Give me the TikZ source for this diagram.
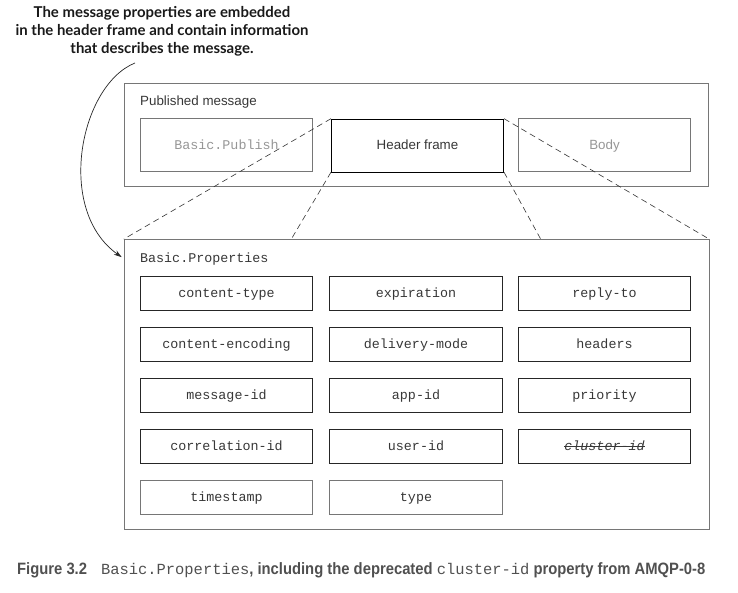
\documentclass[tikz,border=0pt]{standalone}
\usepackage{fontspec}
\setmainfont{Liberation Sans}
\setmonofont{Liberation Mono}
\newfontfamily\notefont{Lato}
\newfontfamily\capfont[FakeStretch=0.9]{Liberation Sans}
\usepackage{tikz}
\usetikzlibrary{positioning,arrows.meta,calc}
\definecolor{frameline}{RGB}{118,118,118}
\definecolor{fadetext}{RGB}{150,150,150}
\definecolor{proptext}{RGB}{55,55,55}
\definecolor{capgrey}{RGB}{80,80,80}
\tikzset{
  outerbox/.style ={draw=frameline, line width=0.8pt, minimum width=586, minimum height=104, inner sep=0pt},
  fadebox/.style  ={draw=frameline, line width=0.8pt, minimum width=173, minimum height=53,
                    text=fadetext, font=\fontsize{13.4}{15}\selectfont, inner sep=0pt,
                    text height=9.6bp, text depth=0.8bp},
  headbox/.style  ={draw=black, line width=0.8pt, minimum width=173, minimum height=53,
                    text=proptext, font=\fontsize{13.4}{15}\selectfont, inner sep=0pt,
                    text height=9.6bp, text depth=0.8bp},
  propbox/.style  ={draw=black!85, line width=0.8pt, minimum width=173, minimum height=34,
                    text=proptext, font=\ttfamily\fontsize{13.4}{15}\selectfont, inner sep=0pt,
                    text height=9.6bp, text depth=0.8bp},
  zoomline/.style ={draw=black!80, dashed, dash pattern=on 6pt off 4pt, line width=0.6pt},
  notearrow/.style={-{Stealth[length=8pt,width=5pt]}, draw=black!85, line width=0.7pt},
}
\begin{document}
\begin{tikzpicture}[x=1bp,y=-1bp]
\useasboundingbox (0,0) rectangle (738,593);
% published message
\node[outerbox] (pubmsg) at (416,135) {};
\node[anchor=base west, font=\fontsize{13.4}{15}\selectfont, text=proptext, inner sep=0pt]
   (publabel) at (140,106) {Published message};
\node[fadebox, font=\ttfamily\fontsize{13.4}{15}\selectfont] (publish) at (226.5,145) {Basic.Publish};
\node[headbox] (header) at (417.5,145.5) {Header frame};
\node[fadebox] (body) at (604.5,145) {Body};

% properties frame
\node[outerbox, minimum height=291, minimum width=587] (props) at (416.5,384.5) {};
\node[anchor=base west, font=\ttfamily\fontsize{13.4}{15}\selectfont, text=proptext, inner sep=0pt]
   (proplabel) at (140,262) {Basic.Properties};

% property boxes
\node[propbox] (ctype)  at (226.5,293) {content-type};
\node[propbox] (expire) at (416,293)   {expiration};
\node[propbox] (reply)  at (604.5,293) {reply-to};
\node[propbox] (cenc)   at (226.5,344) {content-encoding};
\node[propbox] (dmode)  at (416,344)   {delivery-mode};
\node[propbox] (hdrs)   at (604.5,344) {headers};
\node[propbox] (msgid)  at (226.5,395) {message-id};
\node[propbox] (appid)  at (416,395)   {app-id};
\node[propbox] (prio)   at (604.5,395) {priority};
\node[propbox] (corrid) at (226.5,446) {correlation-id};
\node[propbox] (userid) at (416,446)   {user-id};
\node[propbox] (clust)  at (604.5,446) {};
\node[propbox, draw=frameline] (tstamp) at (226.5,497.5) {timestamp};
\node[propbox, draw=frameline] (ptype)  at (416,497.5)   {type};
\node[propbox, draw=none, font=\ttfamily\itshape\fontsize{13.4}{15}\selectfont, minimum width=0pt, minimum height=0pt]
   (clustlbl) at (clust.center) {cluster-id};
\draw[proptext, line width=0.7pt] ([yshift=3.6pt]clustlbl.base west) -- ([yshift=3.6pt]clustlbl.base east);

% zoom lines
\draw[zoomline] (header.north west) -- (props.north west);
\draw[zoomline] (header.south west) -- ($(props.north west)!0.2862!(props.north east)$);
\draw[zoomline] (header.south east) -- ($(props.north west)!0.7121!(props.north east)$);
\draw[zoomline] (header.north east) -- (props.north east);

% note
\node[font=\notefont\bfseries\fontsize{15}{18}\selectfont, align=center, inner sep=0pt, text=black!90]
   (note) at (162,31) {The message properties are embedded\\in the header frame and contain information\\that describes the message.};
\draw[notearrow] (135,63) .. controls (80,85) and (55,210) .. ([xshift=-2bp,yshift=-18bp]props.north west);

% caption
\node[anchor=base west, inner sep=0pt, text=capgrey, font=\capfont\bfseries\fontsize{16.5}{18}\selectfont]
   (caption) at (17,574) {Figure 3.2\hspace{14bp}{\mdseries\ttfamily\fontsize{15.5}{16}\selectfont Basic.Properties}, including the deprecated {\mdseries\ttfamily\fontsize{15.5}{16}\selectfont cluster-id} property from AMQP-0-8};
\end{tikzpicture}
\end{document}
